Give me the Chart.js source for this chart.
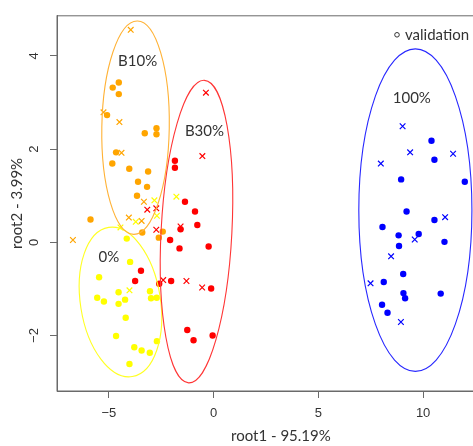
<!DOCTYPE html>
<html>
<head>
<meta charset="utf-8">
<script src="https://cdn.jsdelivr.net/npm/chart.js@4.4.0/dist/chart.umd.min.js"></script>
<style>
  html, body { margin: 0; padding: 0; background: #fff; overflow: hidden; }
  canvas { display: block; }
</style>
</head>
<body>
<canvas id="plot" width="510" height="446"></canvas>
<script>
// axis ticks
const xTicks = [-5, 0, 5, 10];
const yTicks = [-2, 0, 2, 4];

// groups
const groups = ['0%', 'B10%', 'B30%', '100%'];

// training samples (filled dots) and validation samples (x), [root1, root2]
const dots0 = [[-3.99, -0.42], [-4.15, 0.08], [-5.47, -0.75], [-4.54, -1.07], [-3.04, -1.05], [-5.56, -1.19],
  [-5.24, -1.27], [-4.23, -1.23], [-4.54, -1.32], [-2.99, -1.20], [-2.72, -1.19], [-4.20, -1.62],
  [-4.66, -2.01], [-2.71, -2.12], [-3.79, -2.25], [-3.44, -2.32], [-3.05, -2.37], [-4.02, -2.61]];
const valid0 = [[-2.83, 0.90], [-1.78, 0.98], [-2.71, 0.57], [-3.72, 0.44], [-4.45, 0.32], [-4.02, -1.03]];

const dotsB10 = [[-4.53, 3.43], [-4.82, 3.32], [-4.53, 3.18], [-5.09, 2.73], [-3.29, 2.34], [-2.73, 2.45],
  [-2.73, 2.32], [-4.66, 1.93], [-4.84, 1.69], [-4.03, 1.58], [-3.13, 1.52], [-3.61, 1.30],
  [-3.18, 1.19], [-3.66, 1.00], [-5.88, 0.49], [-3.41, 0.21], [-2.43, 0.23], [-2.62, 0.10]];
const validB10 = [[-3.96, 4.56], [-5.26, 2.79], [-4.50, 2.58], [-4.40, 1.92], [-3.33, 0.87], [-4.05, 0.53],
  [-3.44, 0.46], [-6.72, 0.05]];

const dotsB30 = [[-1.85, 1.75], [-1.85, 1.60], [-1.37, 0.87], [-0.89, 0.66], [-0.78, 0.37], [-1.58, 0.28],
  [-2.08, 0.05], [-1.63, -0.13], [-0.24, -0.09], [-3.47, -0.61], [-3.75, -0.83], [-2.60, -0.89],
  [-2.03, -0.83], [-0.12, -0.99], [-1.26, -1.88], [-0.96, -2.10], [-0.05, -2.00]];
const validB30 = [[-0.37, 3.21], [-0.54, 1.85], [-3.17, 0.70], [-2.74, 0.73], [-2.74, 0.27], [-1.58, 0.34],
  [-2.41, -0.81], [-1.30, -0.83], [-0.55, -0.97]];

const dots100 = [[10.40, 2.18], [10.54, 1.77], [8.95, 1.35], [11.99, 1.30], [9.21, 0.66], [10.54, 0.48],
  [8.06, 0.33], [8.83, 0.15], [9.79, 0.18], [11.02, 0.01], [8.85, -0.08], [9.05, -0.68],
  [8.12, -0.85], [9.06, -1.09], [9.14, -1.20], [10.84, -1.10], [8.04, -1.34], [8.30, -1.51]];
const valid100 = [[9.02, 2.49], [9.38, 1.93], [11.43, 1.90], [7.98, 1.69], [11.05, 0.54], [9.60, 0.06],
  [8.47, -0.30], [7.49, -0.88], [8.94, -1.71]];

// group ellipses: centre and semi-axes, in data units (order as groups)
const ellipseCx = [-4.45, -3.73, -0.82, 9.63];
const ellipseCy = [-1.28, 2.46, 0.23, 0.69];
const ellipseRx = [1.91, 1.61, 1.69, 2.70];
const ellipseRy = [1.62, 2.29, 3.25, 3.46];

// styles
const colors = ['#FFFF00', '#FFA500', '#FF0000', '#0000FF'];
const ellipseColors = ['#FFFF22', '#FFB236', '#FF3535', '#2727FF'];
const ellipseTilt = [-9, 1, 3, 0];
const labelAt = [[-5.0, -0.32], [-3.63, 3.88], [-0.44, 2.39], [9.46, 3.09]];
const frameColor = '#6a6a6a';
const textFont = 'Lato, "Open Sans", sans-serif';

function dotSet(points, color) {
  return {
    data: points.map(([x, y]) => ({ x, y })),
    pointStyle: 'circle',
    pointRadius: 3.2,
    backgroundColor: color,
    borderColor: color,
    borderWidth: 0
  };
}

function crossSet(points, color) {
  return {
    data: points.map(([x, y]) => ({ x, y })),
    pointStyle: 'crossRot',
    pointRadius: 4,
    backgroundColor: color,
    borderColor: color,
    borderWidth: 1.2
  };
}

const datasets = [
  dotSet(dotsB10, colors[1]), crossSet(validB10, colors[1]),
  dotSet(dotsB30, colors[2]), crossSet(validB30, colors[2]),
  dotSet(dots0, colors[0]), crossSet(valid0, colors[0]),
  dotSet(dots100, colors[3]), crossSet(valid100, colors[3])
];

const overlay = {
  id: 'overlay',
  afterDatasetsDraw(chart) {
    const { ctx, chartArea: area, scales: { x, y } } = chart;
    ctx.save();

    // box round the plot
    ctx.strokeStyle = frameColor;
    ctx.lineWidth = 1;
    ctx.strokeRect(area.left, area.top, area.right - area.left, area.bottom - area.top);

    // ellipses
    groups.forEach((g, i) => {
      const cx = x.getPixelForValue(ellipseCx[i]);
      const cy = y.getPixelForValue(ellipseCy[i]);
      const rx = Math.abs(x.getPixelForValue(ellipseCx[i] + ellipseRx[i]) - cx);
      const ry = Math.abs(y.getPixelForValue(ellipseCy[i] + ellipseRy[i]) - cy);
      ctx.beginPath();
      ctx.ellipse(cx, cy, rx, ry, ellipseTilt[i] * Math.PI / 180, 0, Math.PI * 2);
      ctx.strokeStyle = ellipseColors[i];
      ctx.lineWidth = 1.1;
      ctx.stroke();
    });

    // group labels
    ctx.fillStyle = '#333';
    ctx.font = '15px ' + textFont;
    ctx.textAlign = 'center';
    ctx.textBaseline = 'middle';
    groups.forEach((g, i) => {
      ctx.fillText(g, x.getPixelForValue(labelAt[i][0]), y.getPixelForValue(labelAt[i][1]));
    });

    // legend
    const lx = area.left + 340;
    const ly = area.top + 19;
    ctx.beginPath();
    ctx.arc(lx, ly, 2.3, 0, Math.PI * 2);
    ctx.strokeStyle = '#333';
    ctx.lineWidth = 1;
    ctx.stroke();
    ctx.textAlign = 'left';
    ctx.fillText('validation', lx + 8, ly);
    ctx.restore();
  }
};

const minus = v => String(v).replace('-', '\u2212');

new Chart(document.getElementById('plot'), {
  type: 'scatter',
  data: { datasets },
  options: {
    responsive: false,
    animation: false,
    events: [],
    layout: { padding: { top: 12, right: 5, left: 0, bottom: 0 } },
    plugins: { legend: { display: false }, tooltip: { enabled: false } },
    scales: {
      x: {
        type: 'linear',
        min: -7.48,
        max: 13.9,
        afterBuildTicks: s => { s.ticks = xTicks.map(v => ({ value: v })); },
        afterFit: s => { s.height = 55; },
        grid: { drawOnChartArea: false, drawTicks: true, tickLength: 7, color: frameColor },
        border: { display: true, color: frameColor },
        ticks: { padding: 8, color: '#333', font: { family: '"Liberation Sans", Arial, sans-serif', size: 13 }, callback: minus },
        title: { display: true, text: 'root1 - 95.19%', color: '#333', padding: { top: 0, bottom: 1 }, font: { family: textFont, size: 15 } }
      },
      y: {
        type: 'linear',
        min: -3.19,
        max: 4.86,
        afterBuildTicks: s => { s.ticks = yTicks.map(v => ({ value: v })); },
        afterFit: s => { s.width = 57; },
        grid: { drawOnChartArea: false, drawTicks: true, tickLength: 7, color: frameColor },
        border: { display: true, color: frameColor },
        ticks: { padding: 8, minRotation: 90, maxRotation: 90, crossAlign: 'center', color: '#333', font: { family: '"Liberation Sans", Arial, sans-serif', size: 13 }, callback: minus },
        title: { display: true, text: 'root2 - 3.99%', color: '#333', padding: { top: 8, bottom: 0 }, font: { family: textFont, size: 15 } }
      }
    }
  },
  plugins: [overlay]
});
</script>
</body>
</html>
